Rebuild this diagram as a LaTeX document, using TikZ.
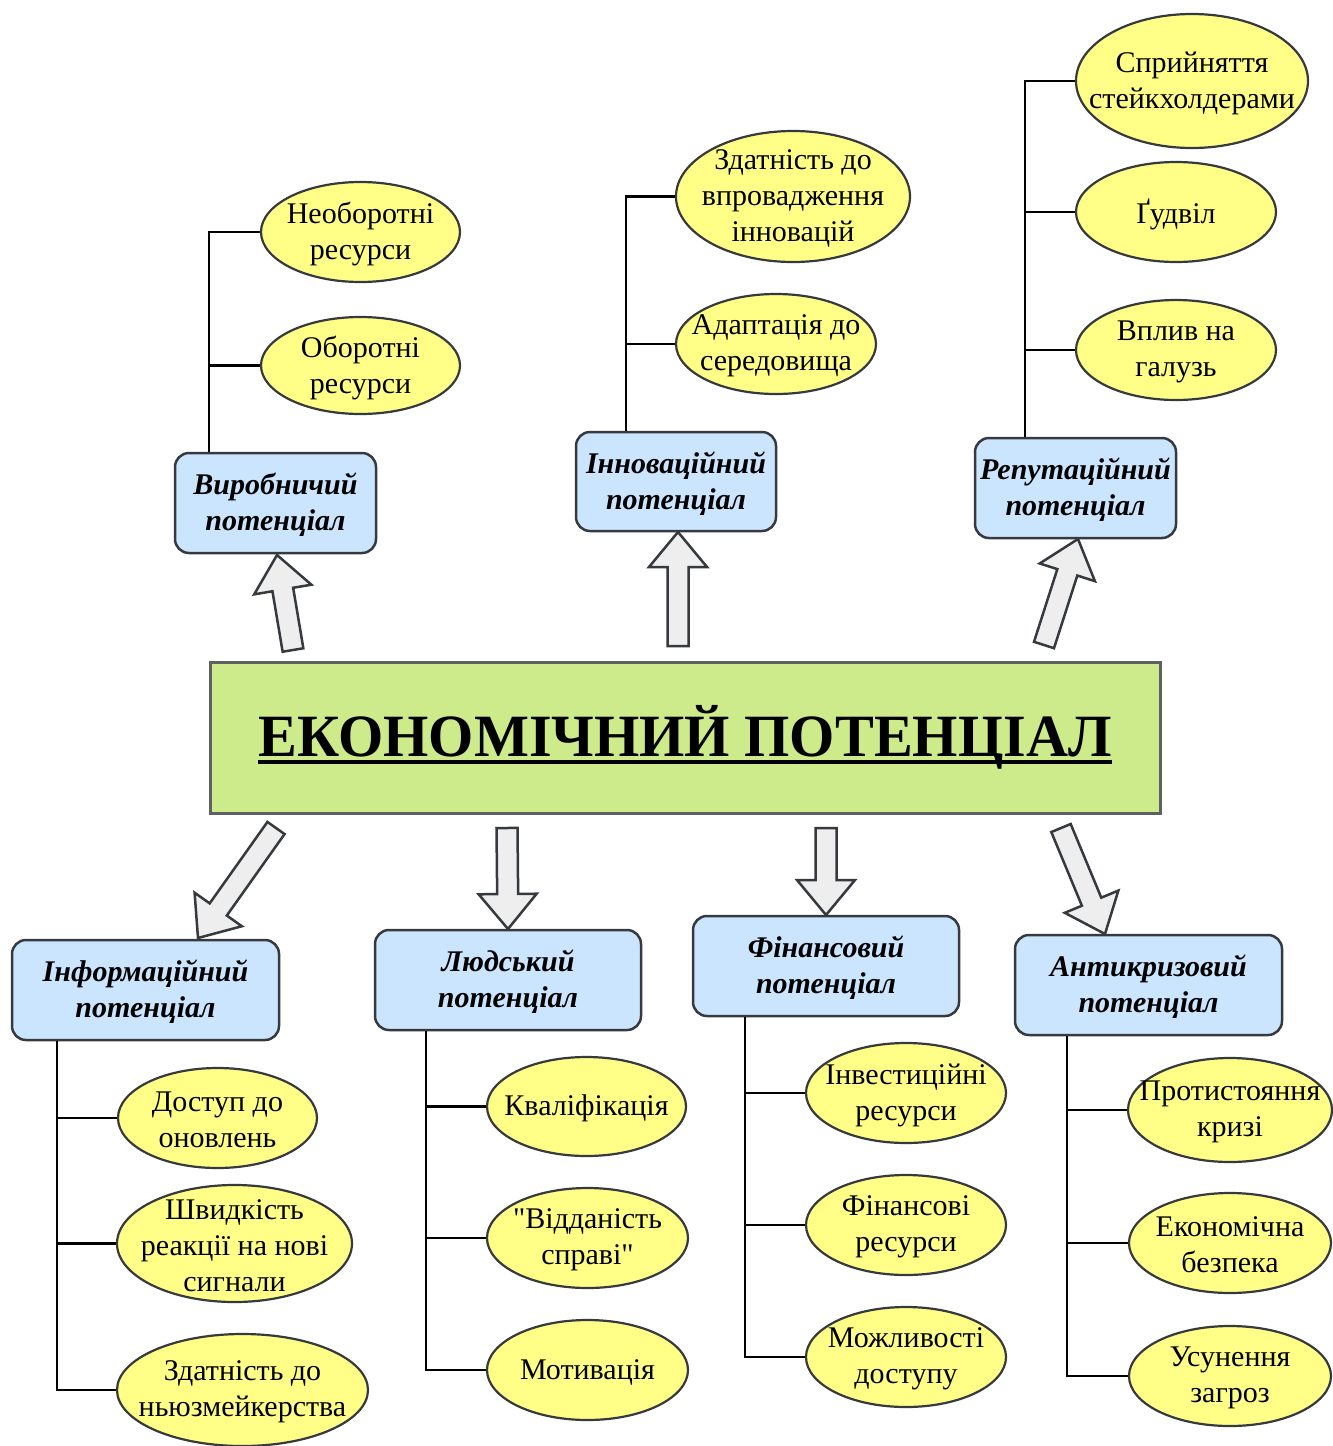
\documentclass[tikz,border=0pt]{standalone}
\usepackage{fontspec}
\setmainfont{LiberationSerif}[Extension=.ttf,UprightFont=*-Regular,BoldFont=*-Bold,
  ItalicFont=*-Italic,BoldItalicFont=*-BoldItalic]
\newfontfamily\plainquote{LiberationSerif}[Extension=.ttf,UprightFont=*-Regular]
\usetikzlibrary{shapes.geometric,calc}

\definecolor{boxblue}{HTML}{CCE5FF}
\definecolor{leafyellow}{HTML}{FFFF88}
\definecolor{coregreen}{HTML}{CDEB8B}
\definecolor{edgegray}{HTML}{36393D}
\definecolor{arrowfill}{HTML}{EEEEEE}

% fat block arrow from tail coordinate #1 to tip coordinate #2
\newcommand\fatarrow[2]{%
  \coordinate (#1h) at ($(#2)!35pt!(#1)$);
  \draw[blockarrow]
    ($(#1)!10.5pt!90:(#2)$) -- ($(#1h)!10.5pt!90:(#2)$) --
    ($(#1h)!29pt!90:(#2)$) -- (#2) --
    ($(#1h)!29pt!-90:(#2)$) -- ($(#1h)!10.5pt!-90:(#2)$) --
    ($(#1)!10.5pt!-90:(#2)$) -- cycle;}

% yellow component ellipse of fixed size: name, centre, width, height, text
\newcommand\leafnode[5]{%
  \node[leaf,minimum width=#3pt,minimum height=#4pt] (#1) at (#2) {};
  \node[leaftext] at ([yshift=-2pt]#1.center) {#5};}

\begin{document}
\begin{tikzpicture}[x=1pt,y=-1pt,
  kindbox/.style={draw=edgegray,line width=2.5pt,fill=boxblue,rounded corners=14pt,
    minimum width=201pt,minimum height=100pt,inner sep=0pt,align=center,
    font=\fontsize{30}{36}\selectfont\bfseries\itshape},
  boxlabel/.style={inner sep=0pt,align=center,font=\fontsize{30}{36}\selectfont\bfseries\itshape},
  leaf/.style={ellipse,draw=edgegray,line width=2.2pt,fill=leafyellow,inner sep=0pt},
  leaftext/.style={inner sep=0pt,align=center,font=\fontsize{30}{36}\selectfont},
  link/.style={draw=black,line width=2.5pt},
  blockarrow/.style={draw=edgegray,line width=2.5pt,fill=arrowfill,line join=miter}]
\useasboundingbox (0,0) rectangle (1333,1446);

% central block
\node[draw=edgegray!80,line width=3pt,fill=coregreen,minimum width=950pt,minimum height=151pt,inner sep=0pt]
  (core) at (685,737.5) {};
\node[inner sep=0pt,font=\fontsize{60}{60}\selectfont\bfseries] (title) at (685,737)
  {\scalebox{0.97}[1]{ЕКОНОМІЧНИЙ ПОТЕНЦІАЛ}};
\draw[line width=4.5pt] ([yshift=-6pt]title.base west) -- ([yshift=-6pt]title.base east);

% upper kinds of potential
\node[kindbox] (vyr) at (275.5,503) {};
\node[kindbox,minimum width=200pt,minimum height=99pt] (inn) at (676,481.5) {};
\node[kindbox] (rep) at (1075.5,488) {};

% lower kinds of potential
\node[kindbox,minimum width=267pt] (inf) at (145.5,990) {};
\node[kindbox,minimum width=266pt] (lud) at (508,980) {};
\node[kindbox,minimum width=266pt] (fin) at (826,966) {};
\node[kindbox,minimum width=267pt] (ant) at (1148.5,985) {};

\node[boxlabel] at ([yshift=-2pt]vyr.center) {Виробничий\\потенціал};
\node[boxlabel] at ([yshift=-2pt]inn.center) {Інноваційний\\потенціал};
\node[boxlabel] at ([yshift=-2pt]rep.center) {Репутаційний\\потенціал};
\node[boxlabel] at ([yshift=-2pt]inf.center) {Інформаційний\\потенціал};
\node[boxlabel] at ([yshift=-2pt]lud.center) {Людський\\потенціал};
\node[boxlabel] at ([yshift=-2pt]fin.center) {Фінансовий\\потенціал};
\node[boxlabel] at ([yshift=-2pt]ant.center) {Антикризовий\\потенціал};

% components
\leafnode{e11}{360.5,232}{199}{100}{Необоротні\\ресурси}
\leafnode{e12}{360.5,365.5}{199}{97}{Оборотні\\ресурси}

\leafnode{e21}{793,196.5}{234}{131}{Здатність до\\впровадження\\інновацій}
\leafnode{e22}{776,344}{200}{100}{Адаптація до\\середовища}

\leafnode{e31}{1192,81}{232}{134}{Сприйняття\\стейкхолдерами}
\leafnode{e32}{1176,212}{200}{100}{Ґудвіл}
\leafnode{e33}{1176,350}{200}{100}{Вплив на\\галузь}

\leafnode{e41}{217.5,1118}{199}{100}{Доступ до\\оновлень}
\leafnode{e42}{234.5,1243.5}{235}{117}{Швидкість\\реакції на нові\\сигнали}
\leafnode{e43}{242.5,1390}{251}{112}{Здатність до\\ньюзмейкерства}

\leafnode{e51}{586.5,1106.5}{199}{99}{Кваліфікація}
\leafnode{e52}{587.5,1238}{201}{100}{{\plainquote"}Відданість\\справі{\plainquote"}}
\leafnode{e53}{587.5,1370}{201}{100}{Мотивація}

\leafnode{e61}{906,1093}{200}{100}{Інвестиційні\\ресурси}
\leafnode{e62}{906,1225}{200}{100}{Фінансові\\ресурси}
\leafnode{e63}{906,1357}{200}{100}{Можливості\\доступу}

\leafnode{e71}{1230,1110}{204}{104}{Протистояння\\кризі}
\leafnode{e72}{1230,1243}{202}{100}{Економічна\\безпека}
\leafnode{e73}{1230,1376}{202}{100}{Усунення\\загроз}

% trunk roots
\coordinate (t1) at ([xshift=35pt]vyr.north west);
\coordinate (t2) at ([xshift=51pt]inn.north west);
\coordinate (t3) at ([xshift=51pt]rep.north west);
\coordinate (t4) at ([xshift=46pt]inf.south west);
\coordinate (t5) at ([xshift=52pt]lud.south west);
\coordinate (t6) at ([xshift=53pt]fin.south west);
\coordinate (t7) at ([xshift=53pt]ant.south west);

% tree connectors
\draw[link] (t1) |- (e11.west);
\draw[link] (t1 |- e12.west) -- (e12.west);
\draw[link] (t2) |- (e21.west);
\draw[link] (t2 |- e22.west) -- (e22.west);
\draw[link] (t3) |- (e31.west);
\draw[link] (t3 |- e32.west) -- (e32.west);
\draw[link] (t3 |- e33.west) -- (e33.west);
\draw[link] (t4) |- (e43.west);
\draw[link] (t4 |- e41.west) -- (e41.west);
\draw[link] (t4 |- e42.west) -- (e42.west);
\draw[link] (t5) |- (e53.west);
\draw[link] (t5 |- e51.west) -- (e51.west);
\draw[link] (t5 |- e52.west) -- (e52.west);
\draw[link] (t6) |- (e63.west);
\draw[link] (t6 |- e61.west) -- (e61.west);
\draw[link] (t6 |- e62.west) -- (e62.west);
\draw[link] (t7) |- (e73.west);
\draw[link] (t7 |- e71.west) -- (e71.west);
\draw[link] (t7 |- e72.west) -- (e72.west);

% block arrows out of the central block
\coordinate (a1) at (293,650);   \coordinate (b1) at (277,555);
\coordinate (a2) at (678,646);   \coordinate (b2) at (678,532);
\coordinate (a3) at (1044,645);  \coordinate (b3) at (1078,539);
\coordinate (a4) at (276,828);   \coordinate (b4) at (198,938);
\coordinate (a5) at (507,828);   \coordinate (b5) at (508,929);
\coordinate (a6) at (826,828);   \coordinate (b6) at (826,915);
\coordinate (a7) at (1061,828);  \coordinate (b7) at (1105,934);
\fatarrow{a1}{b1}
\fatarrow{a2}{b2}
\fatarrow{a3}{b3}
\fatarrow{a4}{b4}
\fatarrow{a5}{b5}
\fatarrow{a6}{b6}
\fatarrow{a7}{b7}
\end{tikzpicture}
\end{document}
